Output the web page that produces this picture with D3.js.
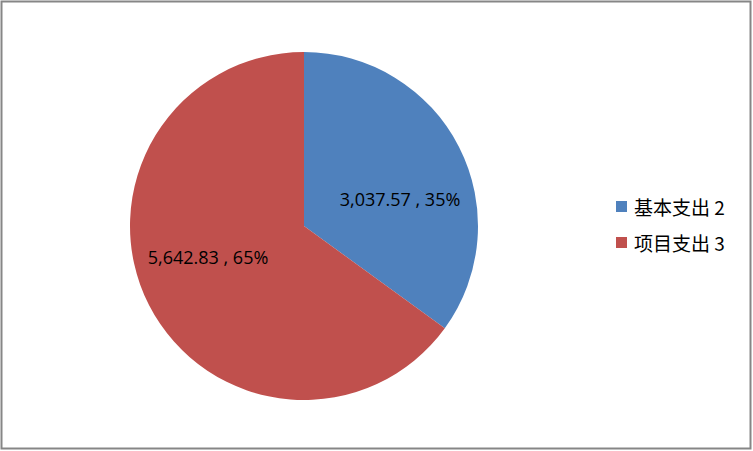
<!DOCTYPE html>
<html><head><meta charset="utf-8">
<script src="https://cdn.jsdelivr.net/npm/d3@7"></script>
<style>body{margin:0;background:#fff}svg{display:block}</style>
</head><body>
<svg id="c" width="753" height="451"></svg>
<script>
const categories = ["基本支出 2", "项目支出 3"];
const values = [3037.57, 5642.83];
const percents = ["35%", "65%"];
const colors = ["#4F81BD", "#C0504D"];

const svg = d3.select("#c");
svg.append("rect").attr("x", 1.5).attr("y", 1.5).attr("width", 749).attr("height", 447)
  .attr("fill", "#fff").attr("stroke", "#868686").attr("stroke-width", 2);

const cx = 304, cy = 226, r = 174;
const pie = d3.pie().sort(null).value(d => d);
const arcs = pie(values);
const arc = d3.arc().innerRadius(0).outerRadius(r);
const g = svg.append("g").attr("transform", `translate(${cx},${cy})`);
g.selectAll("path").data(arcs).enter().append("path")
  .attr("d", arc).attr("fill", (d, i) => colors[i]);

const fmt = d3.format(",.2f");
const labelPos = [[400, 199], [208, 256.5]];
g.selectAll("text.lbl").data(arcs).enter().append("text")
  .attr("class", "lbl")
  .attr("x", (d, i) => labelPos[i][0] - cx)
  .attr("y", (d, i) => labelPos[i][1] - cy)
  .attr("text-anchor", "middle").attr("dominant-baseline", "central")
  .attr("font-family", "Open Sans, sans-serif").attr("font-size", 18)
  .attr("fill", "#000")
  .text((d, i) => fmt(values[i]) + " , " + percents[i]);

const lg = svg.append("g");
categories.forEach((c, i) => {
  const y = 206 + i * 36;
  lg.append("rect").attr("x", 616).attr("y", y - 5).attr("width", 11).attr("height", 11).attr("fill", colors[i]);
  lg.append("text").attr("x", 634).attr("y", y).attr("dominant-baseline", "central")
    .attr("font-family", "Noto Sans CJK SC, sans-serif").attr("font-size", 19).attr("fill", "#000").text(c);
});
</script>
</body></html>
